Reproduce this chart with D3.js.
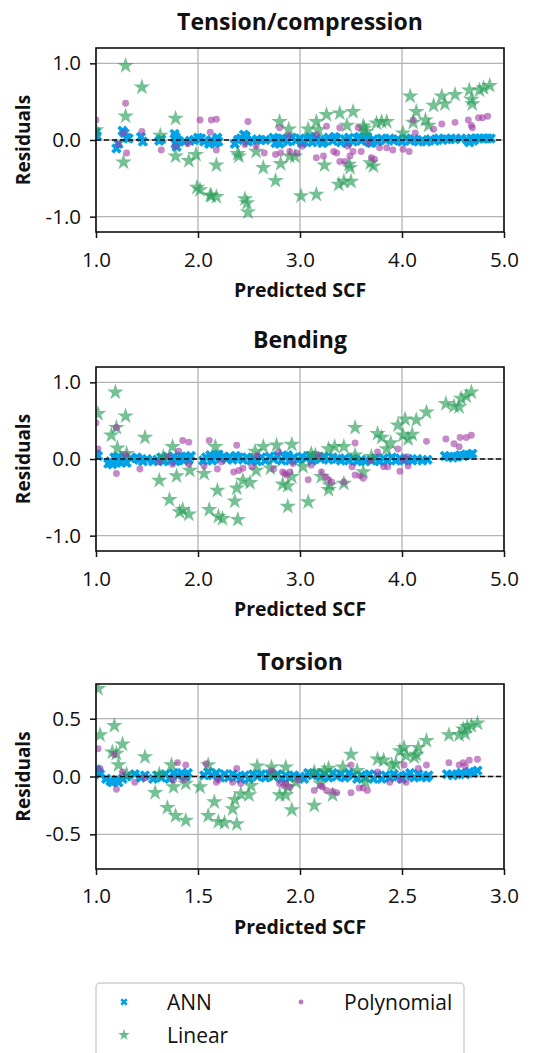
<!DOCTYPE html>
<html>
<head>
<meta charset="utf-8">
<script src="https://cdn.jsdelivr.net/npm/d3@7"></script>
<style>
  body { margin: 0; background: #fff; }
  text { font-family: "Open Sans", "DejaVu Sans", sans-serif; fill: #111; }
</style>
</head>
<body>
<main></main>
<script>
// ---- data: [predicted SCF, residual] ----
const tensionAnn = [[1.00,0.10],[1.01,0.05],[1.20,-0.11],[1.22,-0.05],[1.26,0.12],[1.28,0.09],[1.30,0.03],[1.32,0.02],[1.44,0.04],[1.46,-0.02],
  [1.62,-0.01],[1.64,0.01],[1.77,0.08],[1.78,0.04],[1.78,-0.05],[1.79,-0.09],[1.80,0.00],[1.87,-0.02],[1.92,-0.01],[1.96,0.00],[2.00,0.03],
  [2.03,0.02],[2.06,-0.02],[2.11,-0.05],[2.13,0.00],[2.17,-0.04],[2.19,0.03],[2.20,-0.02],[2.36,-0.05],[2.39,0.00],[2.42,0.02],[2.45,0.07],
  [2.47,0.05],[2.49,-0.02],[2.53,0.00],[2.58,0.01],[2.62,0.00],[2.66,0.00],[2.74,0.03],[2.76,-0.04],[2.78,0.01],[2.80,-0.05],[2.82,0.02],
  [2.84,0.01],[2.88,-0.02],[2.92,0.03],[2.96,-0.01],[3.00,0.02],[3.02,-0.04],[3.04,-0.02],[3.08,0.01],[3.10,0.04],[3.12,-0.03],[3.16,0.02],
  [3.20,0.00],[3.22,-0.04],[3.24,-0.02],[3.28,0.03],[3.32,-0.01],[3.34,0.04],[3.36,0.02],[3.40,-0.03],[3.44,0.01],[3.46,-0.04],[3.48,0.03],
  [3.52,-0.02],[3.56,0.02],[3.58,0.04],[3.60,-0.01],[3.64,0.03],[3.66,0.04],[3.68,-0.03],[3.70,-0.04],[3.72,0.01],[3.76,-0.02],[3.80,0.02],
  [3.84,0.00],[3.88,0.02],[3.92,-0.01],[3.96,0.01],[4.00,-0.02],[4.04,0.02],[4.08,-0.01],[4.12,0.01],[4.16,-0.02],[4.20,0.00],[4.24,-0.02],
  [4.28,0.01],[4.32,-0.01],[4.36,0.02],[4.40,0.00],[4.44,0.01],[4.48,0.02],[4.52,0.01],[4.58,0.02],[4.64,0.00],[4.66,-0.03],[4.68,0.02],
  [4.70,-0.01],[4.72,0.02],[4.76,0.02],[4.80,0.02],[4.84,0.02],[4.87,0.02]];
const tensionLinear = [[1.00,0.13],[1.29,0.97],[1.29,0.31],[1.27,-0.29],[1.45,0.69],[1.78,0.28],[1.63,0.06],[1.78,-0.21],[1.91,-0.27],
  [1.99,-0.62],[2.02,-0.65],[1.98,-0.19],[2.12,-0.72],[2.18,-0.74],[2.18,-0.33],[2.13,-0.73],[2.39,-0.18],[2.40,-0.21],[2.46,-0.77],
  [2.48,-0.82],[2.49,-0.94],[2.57,-0.15],[2.64,-0.36],[2.76,-0.53],[2.80,0.24],[2.81,-0.31],[2.89,0.14],[2.90,-0.21],[2.95,-0.21],
  [3.01,-0.73],[3.08,0.14],[3.16,0.24],[3.16,-0.71],[3.18,0.13],[3.24,-0.33],[3.26,0.33],[3.38,-0.58],[3.39,0.35],[3.43,-0.54],
  [3.46,0.19],[3.48,-0.32],[3.49,-0.36],[3.50,-0.54],[3.52,0.37],[3.62,0.18],[3.63,0.15],[3.65,0.11],[3.69,-0.30],[3.72,-0.34],
  [3.75,0.22],[3.80,0.24],[3.85,0.24],[4.01,0.09],[4.08,0.57],[4.14,0.37],[4.11,0.23],[4.23,0.26],[4.26,0.19],[4.31,0.45],[4.39,0.57],
  [4.42,0.47],[4.52,0.59],[4.66,0.65],[4.68,0.53],[4.69,0.47],[4.76,0.65],[4.80,0.68],[4.86,0.71]];
const tensionPoly = [[1.00,0.26],[1.29,0.48],[1.27,0.09],[1.30,-0.17],[1.22,-0.06],[1.45,0.11],[1.64,-0.13],[1.78,-0.08],[1.90,-0.05],
  [2.02,0.26],[2.12,0.10],[2.13,0.26],[2.18,0.27],[2.18,-0.13],[2.49,0.24],[2.46,-0.06],[2.57,-0.08],[2.65,-0.17],[2.76,-0.19],[2.81,-0.17],
  [2.80,0.16],[2.89,0.06],[2.90,-0.15],[2.97,-0.17],[3.02,-0.08],[3.16,0.07],[3.16,-0.23],[3.23,-0.21],[3.26,0.18],[3.33,-0.15],[3.36,-0.17],
  [3.39,0.16],[3.39,-0.28],[3.44,-0.28],[3.47,-0.08],[3.49,-0.21],[3.52,-0.15],[3.57,0.16],[3.60,-0.15],[3.67,-0.04],[3.70,-0.23],
  [3.73,-0.25],[3.78,-0.10],[3.85,-0.10],[3.91,-0.13],[4.01,-0.12],[4.07,-0.15],[4.11,0.26],[4.13,0.09],[4.31,0.14],[4.39,0.21],
  [4.52,0.23],[4.65,0.26],[4.68,0.19],[4.69,0.16],[4.75,0.29],[4.79,0.29],[4.84,0.31]];

const bendingAnn = [[1.00,0.06],[1.02,0.04],[1.12,-0.06],[1.14,-0.03],[1.16,-0.07],[1.18,0.02],[1.20,-0.05],[1.22,0.03],[1.24,-0.04],
  [1.28,0.02],[1.30,-0.05],[1.34,0.01],[1.40,0.02],[1.42,-0.01],[1.46,-0.03],[1.50,0.00],[1.56,-0.03],[1.60,-0.01],[1.64,0.02],[1.66,-0.03],
  [1.70,0.03],[1.73,-0.02],[1.76,0.03],[1.78,-0.03],[1.80,0.01],[1.84,0.03],[1.86,-0.02],[1.88,0.03],[1.91,-0.01],[1.93,0.04],[2.05,-0.02],
  [2.08,0.02],[2.12,0.05],[2.14,-0.02],[2.17,0.04],[2.20,0.06],[2.22,0.01],[2.25,0.03],[2.28,0.00],[2.31,0.03],[2.34,-0.01],[2.37,0.04],
  [2.40,0.02],[2.44,-0.01],[2.48,0.02],[2.52,-0.02],[2.55,0.01],[2.58,-0.03],[2.62,0.02],[2.66,-0.02],[2.70,0.03],[2.74,0.00],[2.78,0.04],
  [2.82,-0.02],[2.85,0.03],[2.88,0.05],[2.90,-0.02],[2.94,0.02],[2.98,-0.01],[3.02,0.03],[3.06,0.01],[3.10,0.04],[3.12,-0.02],[3.16,0.02],
  [3.20,0.00],[3.24,0.03],[3.28,-0.01],[3.32,0.02],[3.36,0.00],[3.40,-0.02],[3.44,0.01],[3.48,-0.02],[3.52,0.01],[3.56,-0.03],[3.60,-0.01],
  [3.64,-0.03],[3.70,-0.02],[3.74,0.01],[3.78,-0.03],[3.82,0.01],[3.86,-0.02],[3.90,0.02],[3.94,-0.02],[3.98,0.01],[4.02,-0.02],[4.06,0.00],
  [4.10,-0.02],[4.15,0.00],[4.20,-0.02],[4.25,-0.01],[4.42,0.04],[4.46,0.03],[4.50,0.02],[4.54,0.03],[4.57,0.05],[4.60,0.04],[4.63,0.06],
  [4.66,0.05],[4.69,0.07]];
const bendingLinear = [[1.02,0.59],[1.19,0.87],[1.15,0.31],[1.20,0.41],[1.21,0.14],[1.29,0.56],[1.30,0.07],[1.48,0.28],[1.62,-0.28],
  [1.66,0.03],[1.72,-0.53],[1.75,0.16],[1.79,-0.22],[1.82,-0.69],[1.85,-0.66],[1.91,-0.72],[1.92,-0.15],[2.06,-0.19],[2.11,-0.66],
  [2.17,0.16],[2.19,-0.41],[2.20,-0.75],[2.24,-0.78],[2.36,-0.55],[2.38,-0.38],[2.39,-0.79],[2.44,-0.28],[2.51,-0.31],[2.57,-0.15],
  [2.56,0.10],[2.64,0.16],[2.71,-0.12],[2.77,0.18],[2.83,-0.33],[2.88,-0.35],[2.88,-0.62],[2.92,0.19],[2.92,-0.23],[3.03,-0.10],
  [3.08,-0.56],[3.11,0.07],[3.15,0.05],[3.21,-0.23],[3.28,-0.40],[3.29,-0.34],[3.28,0.13],[3.34,0.16],[3.43,-0.32],[3.43,0.16],
  [3.54,0.41],[3.54,0.05],[3.62,-0.17],[3.70,0.03],[3.76,0.33],[3.80,0.28],[3.85,0.13],[3.89,0.21],[3.96,0.44],[4.01,0.31],[4.03,0.52],
  [4.06,0.26],[4.10,0.32],[4.14,0.51],[4.24,0.61],[4.43,0.72],[4.51,0.69],[4.56,0.68],[4.58,0.79],[4.63,0.82],[4.68,0.87]];
const bendingPoly = [[1.00,0.47],[1.02,0.13],[1.20,0.41],[1.20,-0.19],[1.29,0.06],[1.43,-0.13],[1.62,-0.04],[1.71,0.03],[1.75,-0.07],
  [1.81,0.10],[1.85,0.24],[1.91,0.22],[1.91,-0.07],[2.06,-0.09],[2.11,0.24],[2.19,-0.13],[2.23,-0.04],[2.35,-0.17],[2.38,0.18],
  [2.40,-0.15],[2.44,-0.12],[2.53,-0.10],[2.58,0.05],[2.74,-0.13],[2.79,0.09],[2.83,-0.17],[2.85,-0.19],[2.87,-0.21],[2.90,-0.17],
  [2.93,-0.06],[3.08,-0.27],[3.11,-0.08],[3.18,0.05],[3.21,-0.17],[3.25,-0.23],[3.28,-0.27],[3.31,-0.30],[3.43,-0.30],[3.51,-0.10],
  [3.54,0.21],[3.54,-0.21],[3.59,-0.22],[3.62,-0.25],[3.69,-0.02],[3.76,0.09],[3.82,-0.10],[3.86,-0.10],[3.96,0.13],[3.98,-0.16],
  [4.01,-0.01],[4.05,0.03],[4.06,-0.09],[4.24,0.23],[4.43,0.26],[4.51,0.20],[4.56,0.16],[4.57,0.28],[4.63,0.28],[4.68,0.31]];

const torsionAnn = [[1.00,0.06],[1.01,0.04],[1.02,0.02],[1.05,-0.02],[1.07,-0.04],[1.08,-0.05],[1.10,-0.03],[1.11,-0.05],[1.13,-0.02],
  [1.15,0.00],[1.19,0.02],[1.22,-0.01],[1.24,0.01],[1.28,-0.02],[1.30,0.01],[1.32,-0.01],[1.34,0.02],[1.36,-0.02],[1.38,0.03],[1.40,0.01],
  [1.42,0.03],[1.44,0.00],[1.45,0.03],[1.53,0.01],[1.55,0.04],[1.57,0.01],[1.59,0.03],[1.61,-0.01],[1.63,0.02],[1.65,-0.01],[1.67,0.02],
  [1.69,0.00],[1.71,-0.02],[1.73,0.01],[1.75,-0.02],[1.77,0.02],[1.79,0.00],[1.81,0.02],[1.83,-0.01],[1.85,0.02],[1.87,0.00],[1.89,0.02],
  [1.91,-0.02],[1.93,0.01],[1.95,-0.01],[1.97,0.01],[2.00,0.00],[2.02,-0.02],[2.04,0.03],[2.06,0.01],[2.08,0.03],[2.10,0.00],[2.12,0.02],
  [2.14,-0.01],[2.16,0.03],[2.18,0.00],[2.20,0.02],[2.22,-0.01],[2.24,0.03],[2.26,0.01],[2.28,-0.02],[2.30,0.01],[2.32,-0.01],[2.34,0.02],
  [2.36,-0.02],[2.38,0.01],[2.40,-0.02],[2.42,0.01],[2.44,-0.01],[2.46,0.02],[2.48,0.00],[2.50,-0.02],[2.52,0.01],[2.54,0.03],[2.56,-0.01],
  [2.58,0.02],[2.60,0.00],[2.62,-0.01],[2.63,0.01],[2.72,0.02],[2.75,0.01],[2.77,0.02],[2.79,0.03],[2.81,0.02],[2.83,0.04],[2.85,0.03],
  [2.87,0.05]];
const torsionLinear = [[1.01,0.76],[1.02,0.36],[1.08,0.21],[1.09,0.44],[1.10,0.20],[1.11,0.10],[1.13,0.28],[1.15,0.02],[1.24,0.17],
  [1.29,-0.14],[1.31,0.02],[1.35,-0.27],[1.37,0.10],[1.38,-0.09],[1.39,-0.34],[1.44,-0.38],[1.44,-0.06],[1.51,-0.09],[1.55,-0.34],
  [1.55,0.10],[1.58,-0.22],[1.60,-0.39],[1.63,-0.40],[1.67,-0.28],[1.68,-0.20],[1.69,-0.41],[1.71,-0.15],[1.75,-0.16],[1.76,-0.08],
  [1.79,0.09],[1.86,0.08],[1.87,0.01],[1.90,-0.16],[1.93,0.08],[1.93,-0.16],[1.94,-0.09],[1.96,-0.29],[1.98,-0.05],[2.07,-0.25],
  [2.07,0.04],[2.10,-0.06],[2.12,0.05],[2.14,0.07],[2.16,-0.16],[2.21,0.08],[2.25,0.19],[2.28,0.05],[2.32,-0.05],[2.38,0.15],[2.41,0.14],
  [2.45,0.10],[2.47,0.11],[2.49,0.22],[2.51,0.25],[2.52,0.18],[2.56,0.17],[2.57,0.19],[2.58,0.25],[2.62,0.31],[2.73,0.36],[2.78,0.36],
  [2.80,0.41],[2.81,0.37],[2.82,0.43],[2.84,0.44],[2.87,0.46]];
const torsionPoly = [[1.01,0.24],[1.02,0.07],[1.09,0.19],[1.10,-0.11],[1.13,0.04],[1.19,-0.05],[1.24,-0.01],[1.40,0.12],[1.44,0.10],
  [1.38,-0.03],[1.43,-0.03],[1.54,0.11],[1.59,-0.05],[1.60,-0.03],[1.67,-0.05],[1.69,0.07],[1.71,-0.06],[1.86,0.05],[1.90,-0.06],
  [1.92,-0.08],[1.93,-0.06],[1.95,-0.09],[1.99,-0.03],[2.07,-0.12],[2.10,-0.08],[2.11,-0.09],[2.13,-0.12],[2.16,-0.13],[2.18,-0.14],
  [2.25,0.10],[2.25,-0.14],[2.29,-0.10],[2.31,-0.10],[2.33,-0.12],[2.38,0.04],[2.44,-0.05],[2.49,-0.03],[2.51,0.10],[2.52,-0.05],
  [2.58,0.07],[2.62,0.10],[2.73,0.12],[2.78,0.10],[2.80,0.12],[2.81,0.09],[2.83,0.14],[2.87,0.15]];

const panelTitles = ["Tension/compression", "Bending", "Torsion"];
const xDomains = [[1, 5], [1, 5], [1, 3]];
const yDomains = [[-1.2, 1.2], [-1.2, 1.2], [-0.8, 0.8]];
const xTicks = [[1, 2, 3, 4, 5], [1, 2, 3, 4, 5], [1, 1.5, 2, 2.5, 3]];
const yTicks = [[-1, 0, 1], [-1, 0, 1], [-0.5, 0, 0.5]];
const seriesNames = ["ANN", "Linear", "Polynomial"];

const width = 544, height = 1053;
const colors = { ANN: "#00a2e8", Linear: "#2ca05a", Polynomial: "#a23ca3" };

const svg = d3.select("main").append("svg")
  .attr("width", width)
  .attr("height", height);

// symbol generators
const xSym = d3.symbol().type(d3.symbolCross).size(68)();
const starSym = d3.symbol().type(d3.symbolStar).size(85)();
const dotSym = d3.symbol().type(d3.symbolCircle).size(38)();

const panels = [
  { top: 48, bottom: 232, titleY: 30, tickY: 267, labelY: 297, ann: tensionAnn, lin: tensionLinear, poly: tensionPoly },
  { top: 367, bottom: 551, titleY: 348, tickY: 586, labelY: 616, ann: bendingAnn, lin: bendingLinear, poly: bendingPoly },
  { top: 684, bottom: 869, titleY: 670, tickY: 903, labelY: 934, ann: torsionAnn, lin: torsionLinear, poly: torsionPoly }
];
const left = 96, right = 504;

panels.forEach((p, i) => {
  const x = d3.scaleLinear().domain(xDomains[i]).range([left, right]);
  const y = d3.scaleLinear().domain(yDomains[i]).range([p.bottom, p.top]);
  const g = svg.append("g");

  // grid
  g.append("g").selectAll("line").data(xTicks[i]).join("line")
    .attr("x1", d => x(d)).attr("x2", d => x(d))
    .attr("y1", p.top).attr("y2", p.bottom)
    .attr("stroke", "#b3b3b3").attr("stroke-width", 1.3);
  g.append("g").selectAll("line").data(yTicks[i]).join("line")
    .attr("x1", left).attr("x2", right)
    .attr("y1", d => y(d)).attr("y2", d => y(d))
    .attr("stroke", "#b3b3b3").attr("stroke-width", 1.3);

  // points
  g.append("clipPath").attr("id", "clip" + i)
    .append("rect").attr("x", left).attr("y", p.top)
    .attr("width", right - left).attr("height", p.bottom - p.top);
  const pts = g.append("g").attr("clip-path", `url(#clip${i})`);

  pts.selectAll(".ann").data(p.ann).join("path")
    .attr("d", xSym)
    .attr("transform", d => `translate(${x(d[0])},${y(d[1])}) rotate(45)`)
    .attr("fill", colors.ANN);
  pts.selectAll(".lin").data(p.lin).join("path")
    .attr("d", starSym)
    .attr("transform", d => `translate(${x(d[0])},${y(d[1])})`)
    .attr("fill", colors.Linear).attr("fill-opacity", 0.65);
  pts.selectAll(".poly").data(p.poly).join("path")
    .attr("d", dotSym)
    .attr("transform", d => `translate(${x(d[0])},${y(d[1])})`)
    .attr("fill", colors.Polynomial).attr("fill-opacity", 0.6);

  // zero line
  g.append("line")
    .attr("x1", left).attr("x2", right)
    .attr("y1", y(0)).attr("y2", y(0))
    .attr("stroke", "#111").attr("stroke-width", 1.5)
    .attr("stroke-dasharray", "5,3");

  // axes
  const xAxis = g.append("g").attr("transform", `translate(0,${p.bottom})`)
    .call(d3.axisBottom(x).tickValues(xTicks[i]).tickFormat(d => d.toFixed(1)).tickSize(6).tickPadding(6));
  const yAxis = g.append("g").attr("transform", `translate(${left},0)`)
    .call(d3.axisLeft(y).tickValues(yTicks[i]).tickFormat(d => d.toFixed(1)).tickSize(6).tickPadding(9));
  [xAxis, yAxis].forEach(a => {
    a.select(".domain").remove();
    a.selectAll("line").attr("stroke", "#111").attr("stroke-width", 1.5);
    a.selectAll("text").attr("font-size", 20.5).attr("fill", "#111")
      .attr("font-family", "'Open Sans', sans-serif");
  });
  xAxis.selectAll("text").attr("dy", null).attr("y", p.tickY - p.bottom);

  // frame
  g.append("rect").attr("x", left).attr("y", p.top)
    .attr("width", right - left).attr("height", p.bottom - p.top)
    .attr("fill", "none").attr("stroke", "#111").attr("stroke-width", 1.6);

  // labels
  g.append("text").attr("x", (left + right) / 2).attr("y", p.titleY)
    .attr("text-anchor", "middle").attr("font-size", 23).attr("font-weight", "bold")
    .text(panelTitles[i]);
  g.append("text").attr("x", (left + right) / 2).attr("y", p.labelY)
    .attr("text-anchor", "middle").attr("font-size", 19.5).attr("font-weight", "bold")
    .text("Predicted SCF");
  g.append("text")
    .attr("transform", `translate(30,${(p.top + p.bottom) / 2}) rotate(-90)`)
    .attr("text-anchor", "middle").attr("font-size", 19).attr("font-weight", "bold")
    .text("Residuals");
});

// legend
const legend = svg.append("g");
legend.append("rect")
  .attr("x", 96).attr("y", 983).attr("width", 368).attr("height", 90).attr("rx", 4)
  .attr("fill", "#fff").attr("stroke", "#d0d0d0").attr("stroke-width", 1.5);
const legendPos = [[124, 1002], [124, 1035], [301, 1002]];
const legendSym = [xSym, starSym, dotSym];
seriesNames.forEach((name, k) => {
  const [lx, ly] = legendPos[k];
  legend.append("path").attr("d", legendSym[k])
    .attr("transform", `translate(${lx},${ly}) scale(0.7)` + (k === 0 ? " rotate(45)" : ""))
    .attr("fill", colors[name]).attr("fill-opacity", k === 0 ? 1 : 0.7);
  legend.append("text").attr("x", lx + 43).attr("y", ly + 8)
    .attr("font-size", 21).text(name);
});
</script>
</body>
</html>
